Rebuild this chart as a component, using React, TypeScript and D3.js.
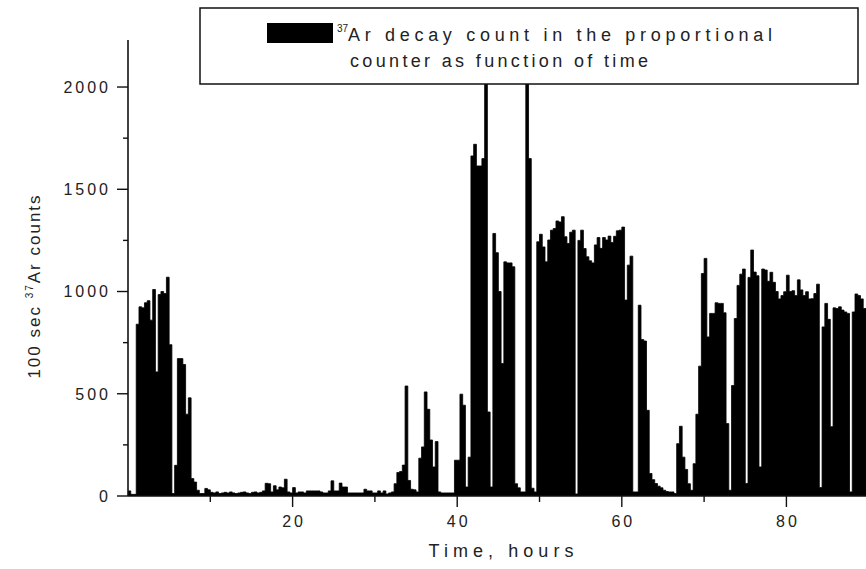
import React from 'react';
import * as d3 from 'd3';

// one bar every 20 minutes
const STEP = 1 / 3;

// 100 sec 37Ar counts, 30 bars per 10-hour block
const hours0to10 = [25, 8, 8, 840, 925, 920, 945, 955, 860, 1010, 607, 985, 1000, 990, 1070, 740, 12, 150, 672, 672, 643, 400, 480, 85, 68, 28, 12, 12, 37, 30];
const hours10to20 = [18, 15, 20, 12, 15, 18, 15, 20, 15, 12, 15, 18, 20, 15, 12, 18, 20, 15, 18, 25, 62, 60, 20, 50, 30, 44, 40, 82, 20, 15];
const hours20to30 = [41, 15, 20, 20, 15, 25, 25, 25, 25, 25, 20, 15, 15, 25, 74, 25, 25, 63, 44, 44, 15, 15, 15, 15, 15, 15, 33, 25, 25, 15];
const hours30to40 = [15, 25, 15, 25, 10, 15, 20, 60, 115, 120, 151, 538, 76, 33, 30, 20, 185, 240, 509, 424, 274, 142, 266, 20, 15, 15, 15, 15, 15, 175];
const hours40to50 = [175, 498, 444, 44, 190, 1663, 1720, 1614, 1614, 1650, 2600, 411, 44, 1284, 1190, 1000, 648, 1145, 1140, 1140, 1121, 60, 40, 20, 20, 2600, 1650, 38, 20, 1243];
const hours50to60 = [1280, 1218, 1145, 1252, 1300, 1308, 1345, 1340, 1366, 1268, 1235, 1290, 1300, 10, 1250, 1300, 1210, 1170, 1150, 1140, 1228, 1264, 1211, 1264, 1252, 1271, 1240, 1270, 1297, 1300];
const hours60to70 = [1315, 958, 1129, 1173, 20, 20, 933, 765, 758, 419, 110, 80, 61, 48, 40, 28, 22, 20, 20, 12, 256, 341, 190, 130, 60, 28, 158, 400, 635, 1088];
const hours70to80 = [1162, 778, 893, 893, 945, 942, 942, 896, 354, 28, 540, 868, 1030, 1085, 1110, 61, 1069, 1203, 1095, 1077, 142, 1110, 1105, 1050, 1094, 1045, 1000, 964, 980, 999];
const hours80to90 = [1080, 1000, 1004, 980, 1057, 1008, 980, 999, 964, 965, 990, 1036, 41, 827, 942, 864, 339, 920, 917, 925, 909, 900, 893, 20, 900, 988, 980, 964, 917, 917];

const blocks = [hours0to10, hours10to20, hours20to30, hours30to40, hours40to50, hours50to60, hours60to70, hours70to80, hours80to90];

const yTicks = [0, 500, 1000, 1500, 2000];
const yMinor = [250, 750, 1250, 1750];
const xTicks = [20, 40, 60, 80];
const xMinor = [10, 30, 50, 70];

const legendLine1 = 'Ar decay count in the proportional';
const legendLine2 = 'counter as function of time';

const W = 866;
const H = 569;
const font = "'Liberation Sans', Arial, sans-serif";
const ink = '#111';

export default function App() {
  const x = d3.scaleLinear().domain([0, 89.67]).range([128, 866]);
  const y = d3.scaleLinear().domain([0, 2230]).range([496, 40]);

  const bars = blocks.flatMap((b, k) => b.map((v, j) => ({ t: k * 10 + j * STEP, v })));
  const last = bars[bars.length - 1];
  const pts = [...bars, { t: last.t + STEP, v: last.v }];

  const area = d3.area<{ t: number; v: number }>()
    .x(d => x(d.t))
    .y0(y(0))
    .y1(d => y(d.v))
    .curve(d3.curveStepAfter);

  const [x0, x1] = x.range();
  const [yb, yt] = y.range();

  return (
    <div style={{ position: 'absolute', left: 0, top: 0 }}>
      <svg width={W} height={H} style={{ display: 'block', background: '#fff' }} fontFamily={font}>
        <defs>
          <clipPath id="plot">
            <rect x={x0} y={yt} width={x1 - x0} height={yb - yt} />
          </clipPath>
        </defs>

        <path d={area(pts) || ''} fill="#000" stroke="#000" strokeWidth={0.8} clipPath="url(#plot)" />

        {/* axes */}
        <line x1={x0} x2={x0} y1={yt} y2={yb} stroke={ink} strokeWidth={1.6} />
        <line x1={x0} x2={x1} y1={yb} y2={yb} stroke={ink} strokeWidth={1.6} />

        {yTicks.map(v => (
          <g key={'y' + v}>
            <line x1={x0 - 11} x2={x0} y1={y(v)} y2={y(v)} stroke={ink} strokeWidth={1.4} />
            <text x={111} y={y(v)} dy="0.36em" textAnchor="end" fontSize={16} letterSpacing={3} fill="#222">{v}</text>
          </g>
        ))}
        {yMinor.map(v => (
          <line key={'ym' + v} x1={x0 - 5} x2={x0} y1={y(v)} y2={y(v)} stroke={ink} strokeWidth={1.4} />
        ))}

        {xTicks.map(v => (
          <g key={'x' + v}>
            <line x1={x(v)} x2={x(v)} y1={yb} y2={yb + 11} stroke={ink} strokeWidth={1.4} />
            <text x={x(v) + 1.5} y={527} textAnchor="middle" fontSize={16} letterSpacing={3} fill="#222">{v}</text>
          </g>
        ))}
        {xMinor.map(v => (
          <line key={'xm' + v} x1={x(v)} x2={x(v)} y1={yb} y2={yb + 6} stroke={ink} strokeWidth={1.4} />
        ))}

        {/* axis titles */}
        <text x={501} y={557} textAnchor="middle" fontSize={18} textLength={145} lengthAdjust="spacing" fill="#222">Time, hours</text>
        <text transform="translate(40,286) rotate(-90)" textAnchor="middle" fontSize={17} letterSpacing={2} fill="#222">
          100 sec <tspan fontSize={10} dy={-7}>37</tspan><tspan dy={7}>Ar counts</tspan>
        </text>

        {/* legend */}
        <rect x={200} y={8} width={658} height={76} fill="#fff" stroke={ink} strokeWidth={1.5} />
        <rect x={267} y={23} width={66} height={20} fill="#000" />
        <text x={337} y={32} fontSize={10} fill="#222">37</text>
        <text x={348} y={41} fontSize={18} textLength={424} lengthAdjust="spacing" fill="#222">{legendLine1}</text>
        <text x={350} y={67} fontSize={18} textLength={298} lengthAdjust="spacing" fill="#222">{legendLine2}</text>
      </svg>
    </div>
  );
}
